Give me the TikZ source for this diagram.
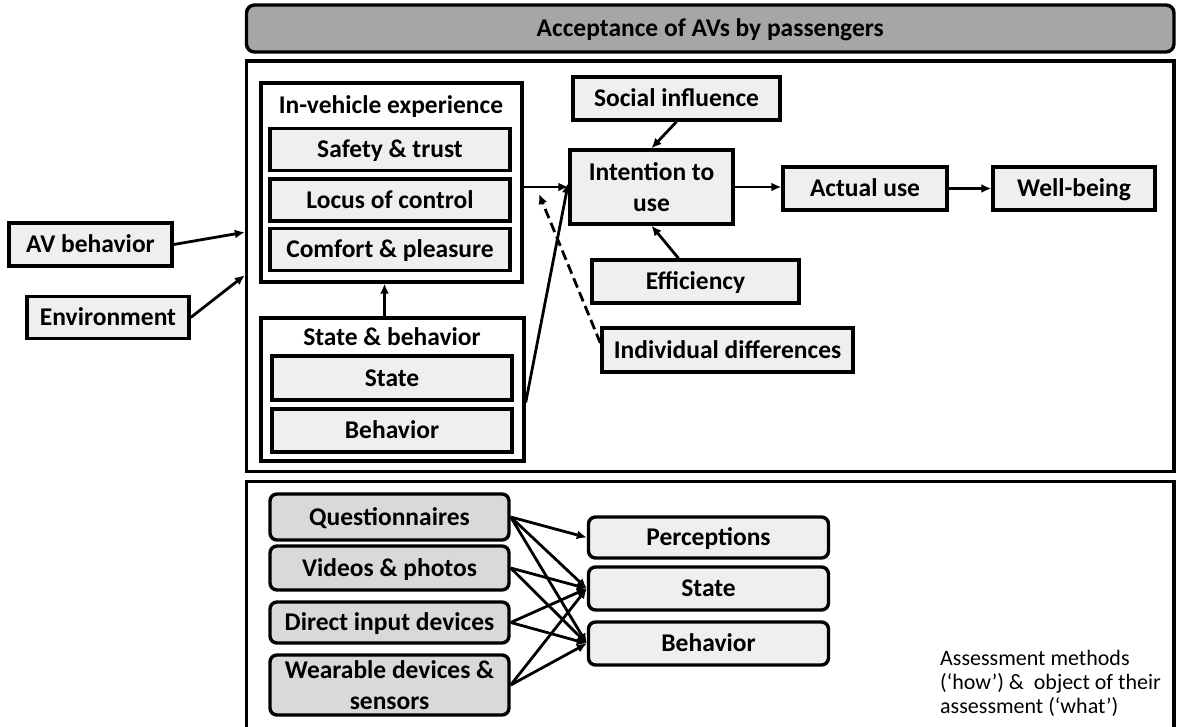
\documentclass[tikz,border=0pt]{standalone}
\usepackage{fontspec}
\setmainfont{Carlito}
\usetikzlibrary{arrows.meta,positioning,calc}
\definecolor{boxfill}{HTML}{EFEFEF}
\definecolor{methfill}{HTML}{D9D9D9}
\definecolor{titlefill}{HTML}{A6A6A6}
\tikzset{
  tb/.style={draw, line width=3.4pt, fill=boxfill, font=\fontsize{25.5}{30.5}\selectfont\bfseries, align=center, inner sep=0pt},
  box/.style={tb, text height=19.8pt, text depth=3.6pt},
  boxtwo/.style={tb},
  grp/.style={draw, line width=3.4pt, fill=white, inner sep=0pt},
  grplabel/.style={font=\fontsize{25.5}{30}\selectfont\bfseries, inner sep=0pt, text height=19.8pt, text depth=3.6pt},
  meth/.style={box, rounded corners=7pt, fill=methfill},
  methtwo/.style={boxtwo, rounded corners=7pt, fill=methfill},
  what/.style={box, rounded corners=7pt},
  frame/.style={draw, line width=3.4pt, inner sep=0pt},
  arr/.style={-{Latex[length=10pt,width=9pt]}, line width=2.8pt},
}
\begin{document}
\begin{tikzpicture}[x=1pt, y=-1pt]
\useasboundingbox (0,0) rectangle (1178,727);
% frames
\node[frame, rounded corners=8pt, fill=titlefill, minimum width=927.5pt, minimum height=47pt, font=\fontsize{25.5}{30}\selectfont\bfseries, text height=19.8pt, text depth=3.6pt] (title) at (710.25,28.5) {Acceptance of AVs by passengers};
\node[frame, minimum width=927.5pt, minimum height=410.5pt] (accframe) at (710.25,266.25) {};
\draw[line width=3.4pt] (246.5,727) |- (1174,481.5) -- (1174,727);
% in-vehicle experience
\node[grp, minimum width=261pt, minimum height=199pt] (ive) at (391.5,182.5) {};
\node[grplabel] (ivelab) at (391,105) {In-vehicle experience};
\node[box, minimum width=240pt, minimum height=42pt] (safe) at (390,149.5) {Safety \& trust};
\node[box, minimum width=240pt, minimum height=42pt] (locus) at (390,200) {Locus of control};
\node[box, minimum width=240pt, minimum height=42pt] (comfort) at (390,249.5) {Comfort \& pleasure};
% state & behavior
\node[grp, minimum width=263pt, minimum height=143pt] (sbg) at (392.5,389.5) {};
\node[grplabel] (sblab) at (392,337) {State \& behavior};
\node[box, minimum width=240pt, minimum height=44pt] (state) at (392,378) {State};
\node[box, minimum width=240pt, minimum height=43pt] (behav) at (392,430.5) {Behavior};
% acceptance model
\node[box, minimum width=207pt, minimum height=43pt] (social) at (676.5,98.5) {Social influence};
\node[boxtwo, minimum width=163pt, minimum height=74pt] (intent) at (651.5,187) {Intention to\\use};
\node[box, minimum width=164pt, minimum height=43pt] (actual) at (865,188.5) {Actual use};
\node[box, minimum width=162pt, minimum height=43pt] (wellb) at (1074,188.5) {Well-being};
\node[box, minimum width=207pt, minimum height=43pt] (effic) at (695.5,281.5) {Efficiency};
\node[box, minimum width=251pt, minimum height=44pt] (indiv) at (727.5,350) {Individual differences};
\node[box, minimum width=163pt, minimum height=43pt] (avbeh) at (90.5,244.5) {AV behavior};
\node[box, minimum width=162pt, minimum height=42pt] (envir) at (108,317.5) {Environment};
\coordinate (dtip) at (539,194);
\draw[arr] (avbeh.east) -- ([yshift=34pt]accframe.west);
\draw[arr] (envir.east) -- ([yshift=-9pt]accframe.west);
\draw[arr] ([xshift=-8pt]sbg.north) -- ([xshift=-7pt]ive.south);
\draw[arr] (ive.east |- intent.west) -- (intent.west);
\draw[arr] ([yshift=-13pt]sbg.east) -- ([yshift=4pt]intent.west);
\draw[arr, dash pattern=on 10pt off 5pt] ([yshift=7pt]indiv.west) -- (dtip);
\draw[arr] (social.south) -- (intent.north);
\draw[arr] ([xshift=-17pt]effic.north) -- (intent.south);
\draw[arr] (intent.east) -- (intent.east -| actual.west);
\draw[arr] (actual.east) -- (wellb.west);
% assessment methods
\node[meth, minimum width=239pt, minimum height=46pt] (quest) at (389.5,517) {Questionnaires};
\node[meth, minimum width=239pt, minimum height=44pt] (video) at (389.5,568) {Videos \& photos};
\node[meth, minimum width=239pt, minimum height=41pt] (direct) at (389.5,622.5) {Direct input devices};
\node[methtwo, minimum width=239pt, minimum height=60pt] (wear) at (389.5,685) {Wearable devices \&\\sensors};
\node[what, minimum width=240pt, minimum height=41pt] (perc) at (708.5,537.5) {Perceptions};
\node[what, minimum width=240pt, minimum height=43pt] (stt) at (708.5,588.5) {State};
\node[what, minimum width=240pt, minimum height=43pt] (beh) at (708.5,643.5) {Behavior};
\foreach \m/\w in {quest/perc, quest/stt, quest/beh, video/stt, video/beh, direct/stt, direct/beh, wear/stt, wear/beh}
  \draw[arr] (\m.east) -- (\w.west);
\node[anchor=west, align=left, inner sep=0pt, font=\fontsize{22}{24}\selectfont] (note) at (940,683) {Assessment methods\\(‘how’) \&~ object of their\\assessment (‘what’)};
\end{tikzpicture}
\end{document}
